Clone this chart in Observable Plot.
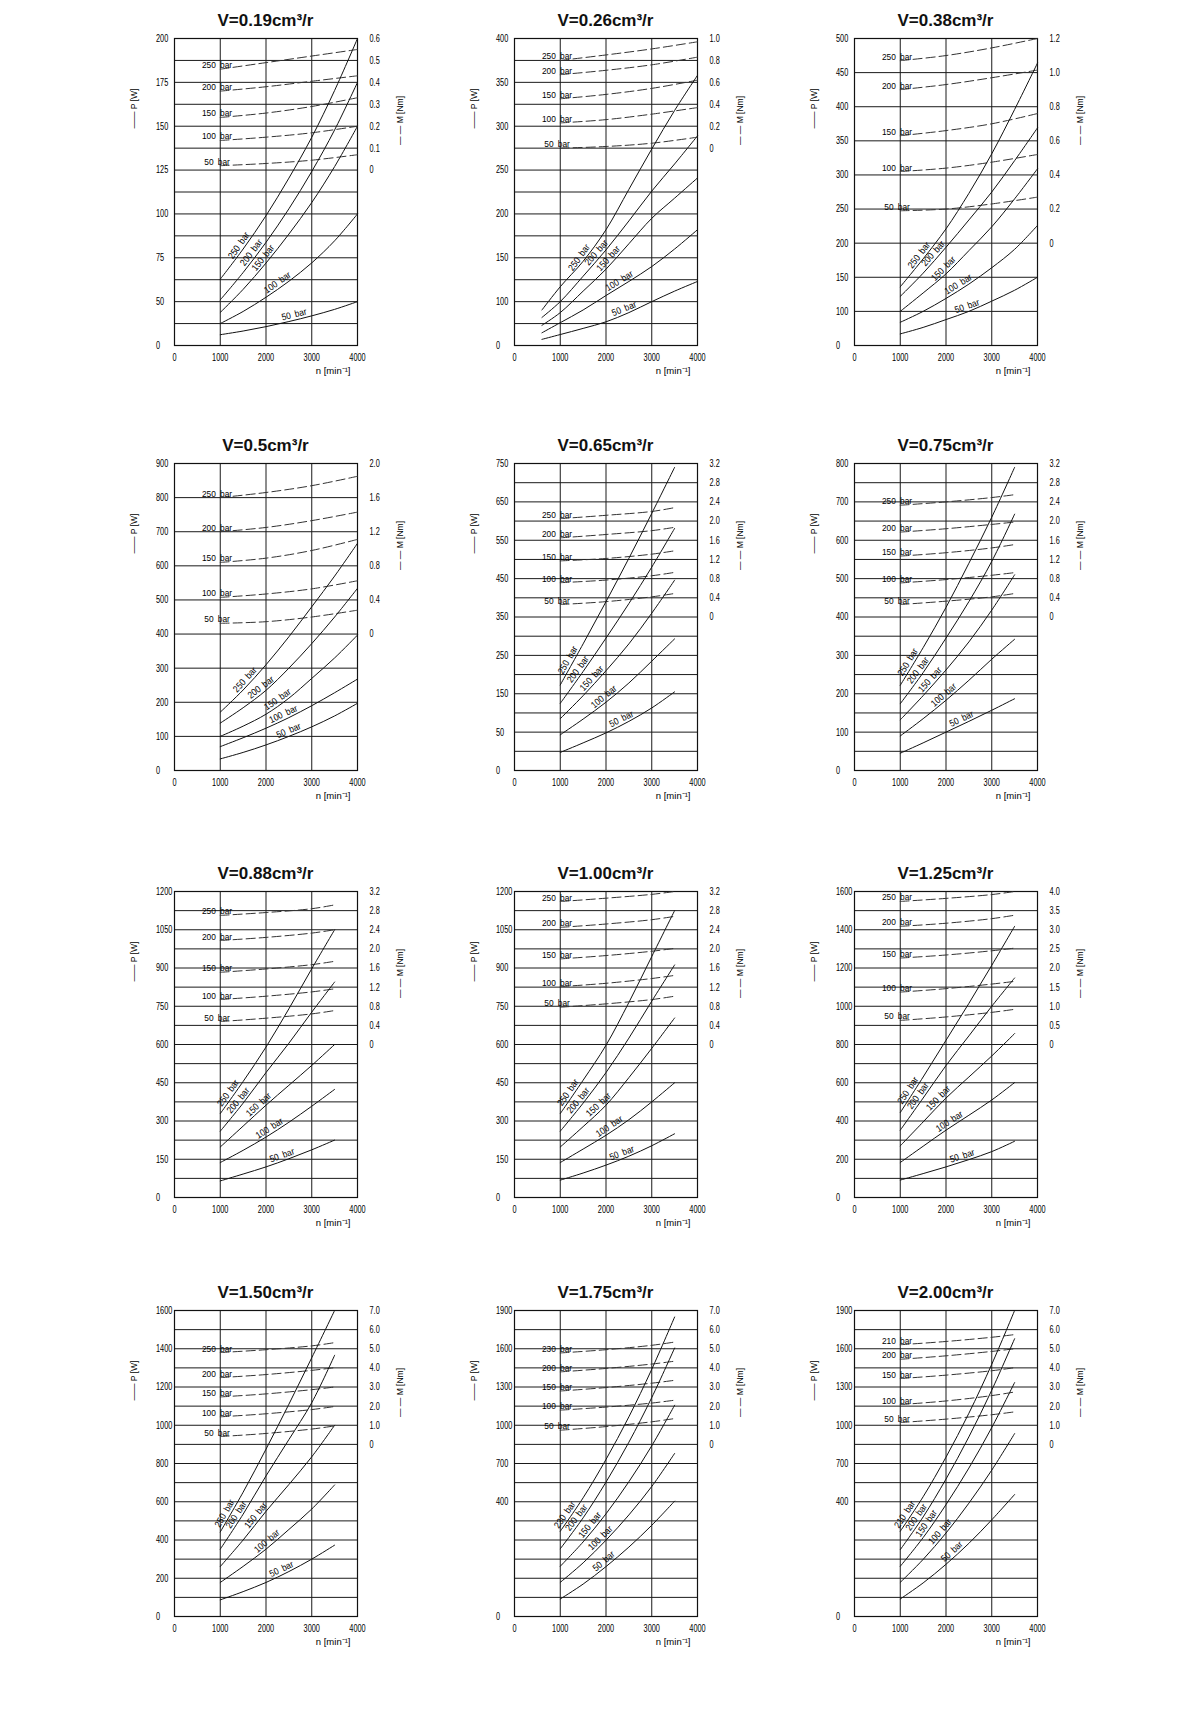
<!DOCTYPE html>
<html><head><meta charset="utf-8">
<script src="https://cdn.jsdelivr.net/npm/d3@7"></script>
<script src="https://cdn.jsdelivr.net/npm/@observablehq/plot@0.6"></script>
<style>
body{margin:0;background:#fff;}
#root{position:relative;width:1200px;height:1729px;background:#fff;overflow:hidden;}
.ttl{position:absolute;font:bold 17px "Liberation Sans",Arial,sans-serif;text-align:center;line-height:20px;height:20px;color:#111;}
.pn{position:absolute;}
</style></head><body><div id="root"></div>
<script>
// ---------- data ----------
const titles = ["V=0.19cm³/r","V=0.26cm³/r","V=0.38cm³/r","V=0.5cm³/r","V=0.65cm³/r","V=0.75cm³/r",
  "V=0.88cm³/r","V=1.00cm³/r","V=1.25cm³/r","V=1.50cm³/r","V=1.75cm³/r","V=2.00cm³/r"];
const xTicks = [0,1000,2000,3000,4000];
const nA = [1000,1500,2000,2500,3000,3500,4000];
const nB = [600,1000,1500,2000,2500,3000,3500,4000];
const nC = [1000,1500,2000,2500,3000,3500];
const mA = [1000,2000,3000,4000];
const mC = [1000,2000,3000,3500];
const bars = [250,200,150,100,50];
const bars175 = [230,200,150,100,50];
const bars200 = [210,200,150,100,50];

const P019 = [[62.8,80,99,120.4,143.7,170.4,200],[51,66.6,83.8,102.9,124.2,147.9,175],[37.7,57,72,88.5,106.5,127,150],[25,38.8,52.5,61.6,72.1,84.7,100],[12.3,16.5,21.5,27.3,33.8,41.2,50]];
const M019 = [[0.46,0.49,0.52,0.55],[0.36,0.38,0.405,0.43],[0.24,0.26,0.29,0.33],[0.135,0.15,0.17,0.20],[0.02,0.03,0.045,0.07]];
const P026 = [[81,117,146,182,228,274,318,358],[64,100,129,159,192,226,257,289],[46,75,112,137,166,195,218,241],[29,52,81,107,123,140,160,182],[14,25,39,54,75,100,112,123]];
const M026 = [[0.80,0.85,0.905,0.97],[0.67,0.71,0.76,0.83],[0.45,0.49,0.545,0.62],[0.23,0.26,0.31,0.37],[0,0.015,0.045,0.10]];
const P038 = [[136,177,221,273,331,396,464],[122,156,194,234,275,321,369],[100,127,155,189,224,265,309],[68,100,119,140,164,191,226],[34,53,76,100,115,131,150]];
const M038 = [[1.07,1.10,1.145,1.20],[0.90,0.93,0.97,1.015],[0.63,0.66,0.70,0.76],[0.42,0.44,0.475,0.52],[0.19,0.20,0.23,0.27]];
const P050 = [[171,236,310,392,480,570,666],[139,184,235,300,372,450,534],[100,130,165,212,270,330,397],[70,96,124,155,190,228,268],[34,53,75,100,128,160,197]];
const M050 = [[1.60,1.66,1.74,1.85],[1.20,1.25,1.33,1.43],[0.84,0.89,0.98,1.11],[0.43,0.47,0.53,0.625],[0.126,0.145,0.20,0.28]];
const P065 = [[173,280,390,503,620,740],[125,208,295,385,480,581],[85,145,210,280,360,446],[46.5,84,128,178,235,293],[23.5,36,49,78,113,155]];
const M065 = [[2.05,2.12,2.20,2.28],[1.65,1.72,1.80,1.87],[1.17,1.22,1.31,1.38],[0.715,0.77,0.86,0.93],[0.26,0.32,0.42,0.49]];
const P075 = [[222,320,425,540,660,790],[174,255,345,440,545,668],[132,195,262,335,418,510],[90,135,183,235,290,342],[45,72,100,128,157,187]];
const M075 = [[2.33,2.40,2.49,2.55],[1.77,1.84,1.93,1.98],[1.27,1.34,1.44,1.51],[0.71,0.78,0.87,0.925],[0.26,0.33,0.42,0.49]];
const P088 = [[329,455,590,740,897,1050],[260,370,490,605,727,845],[198,280,362,440,518,600],[137,185,237,295,358,424],[65,92,120,152,187,225]];
const M088 = [[2.70,2.76,2.84,2.92],[2.175,2.24,2.33,2.40],[1.51,1.58,1.67,1.74],[0.94,1.01,1.10,1.165],[0.48,0.55,0.64,0.71]];
const P100 = [[329,460,597,765,945,1125],[260,370,490,625,770,912],[198,278,362,470,585,704],[137,190,244,305,375,450],[68,96,127,162,203,250]];
const M100 = [[2.99,3.06,3.14,3.2],[2.45,2.52,2.61,2.68],[1.79,1.86,1.95,2.01],[1.21,1.28,1.38,1.445],[0.78,0.85,0.94,1.01]];
const P125 = [[444,630,822,1015,1214,1418],[352,520,690,845,1000,1148],[270,395,520,630,740,857],[183,268,352,430,510,601],[91,125,160,198,240,294]];
const M125 = [[3.74,3.82,3.92,4.0],[3.09,3.17,3.29,3.38],[2.26,2.34,2.45,2.52],[1.37,1.46,1.58,1.65],[0.63,0.72,0.84,0.92]];
const P150 = [[442,650,875,1110,1353,1600],[352,535,735,925,1118,1366],[261,400,550,690,835,1000],[178,262,352,455,562,688],[87,130,178,235,300,373]];
const M150 = [[4.80,4.95,5.15,5.32],[3.49,3.65,3.87,4.01],[2.48,2.64,2.86,3.0],[1.44,1.60,1.82,1.98],[0.41,0.57,0.80,0.965]];
const P175 = [[297,431,732,1066,1439,1849],[236,344,554,867,1217,1606],[175,260,358,557,839,1157],[119,187,266,354,520,779],[61,113,174,242,318,405]];
const M175 = [[4.78,4.95,5.18,5.35],[3.79,3.97,4.20,4.35],[2.79,2.97,3.20,3.35],[1.79,1.95,2.16,2.31],[0.74,0.93,1.18,1.35]];
const P200 = [[297,439,750,1094,1478,1900],[233,347,578,909,1275,1679],[175,275,390,664,982,1335],[119,199,291,395,648,935],[61,117,182,255,337,457]];
const M200 = [[5.21,5.38,5.60,5.74],[4.45,4.63,4.86,5.0],[3.44,3.62,3.85,4.01],[2.08,2.27,2.55,2.74],[1.14,1.32,1.55,1.70]];

// tick labels
const L019 = [0,50,75,100,125,150,175,200];
const L026 = [0,100,150,200,250,300,350,400];
const L038 = [0,100,150,200,250,300,350,400,450,500];
const L050 = [0,100,200,300,400,500,600,700,800,900];
const L065 = [0,50,150,250,350,450,550,650,750];
const L075 = [0,100,200,300,400,500,600,700,800];
const L088 = [0,150,300,450,600,750,900,1050,1200];
const L125 = [0,200,400,600,800,1000,1200,1400,1600];
const L175 = [0,400,700,1000,1300,1600,1900];
const R019 = [0,0.1,0.2,0.3,0.4,0.5,0.6];
const R026 = [0,0.2,0.4,0.6,0.8,1.0];
const R038 = [0,0.2,0.4,0.6,0.8,1.0,1.2];
const R050 = [0,0.4,0.8,1.2,1.6,2.0];
const R065 = [0,0.4,0.8,1.2,1.6,2.0,2.4,2.8,3.2];
const R125 = [0,0.5,1.0,1.5,2.0,2.5,3.0,3.5,4.0];
const R150 = [0,1,2,3,4,5,6,7];

// per-panel axis/annotation settings
const panels = [
 {P:P019,M:M019,n:nA,nM:mA,bars:bars,yd:[0,50,200],low:2,step:12.5,L:L019,R:R019,m0:125,mk:125,lab:[1507,1775,2030,2320,2645]},
 {P:P026,M:M026,n:nB,nM:mA,bars:bars,yd:[0,100,400],low:2,step:25,L:L026,R:R026,m0:275,mk:125,lab:[1510,1880,2140,2355,2440]},
 {P:P038,M:M038,n:nA,nM:mA,bars:bars,yd:[0,100,500],low:1,step:50,L:L038,R:R038,m0:200,mk:250,lab:[1507,1810,2030,2333,2500]},
 {P:P050,M:M050,n:nA,nM:mA,bars:bars,yd:[0,100,900],low:1,step:100,L:L050,R:R050,m0:400,mk:250,lab:[1630,1960,2320,2430,2540]},
 {P:P065,M:M065,n:nC,nM:mC,bars:bars,yd:[0,50,750],low:2,step:50,L:L065,R:R065,m0:350,mk:125,lab:[1270,1485,1775,2030,2390]},
 {P:P075,M:M075,n:nC,nM:mC,bars:bars,yd:[0,100,800],low:2,step:50,L:L075,R:R065,m0:400,mk:125,lab:[1270,1485,1740,2030,2390]},
 {P:P088,M:M088,n:nC,nM:mC,bars:bars,yd:[0,150,1200],low:2,step:75,L:L088,R:R065,m0:600,mk:187.5,lab:[1270,1485,1920,2140,2390]},
 {P:P100,M:M100,n:nC,nM:mC,bars:bars,yd:[0,150,1200],low:2,step:75,L:L088,R:R065,m0:600,mk:187.5,lab:[1270,1485,1920,2140,2390]},
 {P:P125,M:M125,n:nC,nM:mC,bars:bars,yd:[0,200,1600],low:2,step:100,L:L125,R:R125,m0:800,mk:200,lab:[1270,1485,1920,2140,2390]},
 {P:P150,M:M150,n:nC,nM:mC,bars:bars,yd:[0,200,1600],low:2,step:100,L:L125,R:R150,m0:900,mk:100,lab:[1200,1450,1870,2100,2390]},
 {P:P175,M:M175,n:nC,nM:mC,bars:bars175,yd:[0,400,1900],low:6,step:150,L:L175,R:R150,m0:850,mk:150,lab:[1200,1450,1740,1960,2030]},
 {P:P200,M:M200,n:nC,nM:mC,bars:bars200,yd:[0,400,1900],low:6,step:150,L:L175,R:R150,m0:850,mk:150,lab:[1200,1450,1670,1960,2210]}
];

// ---------- layout ----------
const colLeft = [174, 514, 854];
const rowTop = [38, 463, 891, 1310];
const rowH = [307, 307, 306, 306];
const FW = 183, mL = 45, mR = 110, mT = 8, mB = 42;
const FONT = "'Liberation Sans',Arial,sans-serif";
const root = document.getElementById("root");

panels.forEach((p, idx) => {
  try {
  const row = Math.floor(idx / 3), col = idx % 3;
  const H = rowH[row], fl = colLeft[col], ft = rowTop[row];
  const [y0, yLow, yTop] = p.yd;
  const nInt = p.low + (yTop - yLow) / p.step;
  const xRange = [mL, mL + FW];
  const yRange = [mT + H, mT];
  // broken (compressed) lower segment of the P axis, as in the original drawing
  const tf = v => v <= yLow ? v / yLow * p.low : p.low + (v - yLow) / p.step;
  const tfInv = u => u <= p.low ? u / p.low * yLow : yLow + (u - p.low) * p.step;
  const grid = [];
  for (let i = 1; i < p.low; i++) grid.push(yLow * i / p.low);
  for (let v = yLow; v < yTop - 1e-6; v += p.step) grid.push(v);

  // the same mapping the plot uses, for orienting the curve labels
  const xs = d3.scaleLinear().domain([0, 4000]).range(xRange);
  const us = d3.scaleLinear().domain([0, nInt]).range(yRange);
  const ys = v => us(tf(v));
  const ysInv = py => tfInv(us.invert(py));

  const solid = [];
  p.P.forEach((arr, i) => arr.forEach((v, j) => solid.push({n: p.n[j], P: v, bar: p.bars[i]})));
  const dashed = [];
  p.M.forEach((arr, i) => arr.forEach((m, j) => dashed.push({n: p.nM[j], P: p.m0 + m * p.mk, bar: p.bars[i]})));

  const solidLabels = p.bars.map((b, i) => {
    const pts = p.n.map((nv, j) => [xs(nv), ys(p.P[i][j])]);
    const lx = xs(p.lab[i]);
    let k = 0; while (k < pts.length - 2 && pts[k + 1][0] < lx) k++;
    const [ax, ay] = pts[k], [bx, by] = pts[k + 1];
    const t = (lx - ax) / (bx - ax);
    const py = ay + t * (by - ay);
    const th = Math.atan2(by - ay, bx - ax);
    const off = 2.5;
    const qx = lx + Math.sin(th) * off, qy = py - Math.cos(th) * off;
    return {n: xs.invert(qx), P: ysInv(qy), r: th * 180 / Math.PI, t: b + "\u2002bar"};
  });
  const dashLabels = p.bars.map((b, i) => ({n: 930, P: p.m0 + p.M[i][0] * p.mk, t: b + "\u2002bar"}));

  const fmtR = d => { const m = Math.round((d - p.m0) / p.mk * 10) / 10; return m === 0 ? "0" : m.toFixed(1); };

  const svg = Plot.plot({
    width: mL + FW + mR, height: mT + H + mB,
    marginLeft: mL, marginRight: mR, marginTop: mT, marginBottom: mB,
    style: {fontFamily: FONT, fontSize: "9px", color: "#000", background: "white", overflow: "visible"},
    x: {domain: [0, 4000], range: xRange},
    y: {transform: tf, domain: [0, nInt], range: yRange},
    marks: [
      Plot.ruleY(grid, {stroke: "#1a1a1a", strokeWidth: 1}),
      Plot.ruleX([1000, 2000, 3000], {stroke: "#1a1a1a", strokeWidth: 1}),
      Plot.frame({stroke: "#111", strokeWidth: 1.2}),
      Plot.line(dashed, {x: "n", y: "P", z: "bar", curve: "catmull-rom", stroke: "#333", strokeWidth: 1, strokeDasharray: "9,4"}),
      Plot.line(solid, {x: "n", y: "P", z: "bar", curve: "catmull-rom", stroke: "#111", strokeWidth: 1}),
      Plot.text(solidLabels, {x: "n", y: "P", text: "t", rotate: "r", textAnchor: "middle", lineAnchor: "bottom", fontSize: 9.5, fill: "#000"}),
      Plot.text(dashLabels, {x: "n", y: "P", text: "t", textAnchor: "middle", lineAnchor: "bottom", dy: -1, fontSize: 9.5, fill: "#000"}),
      Plot.axisY(p.L, {anchor: "left", label: null, tickSize: 0, tickPadding: 18.5, textAnchor: "start", tickFormat: d => String(d), fontSize: 10.5}),
      Plot.axisY(p.R.map(m => p.m0 + m * p.mk), {anchor: "right", label: null, tickSize: 0, tickPadding: 12, textAnchor: "start", tickFormat: fmtR, fontSize: 10.5}),
      Plot.axisX(xTicks, {anchor: "bottom", label: null, tickSize: 0, tickPadding: 8, tickFormat: d => String(d), fontSize: 10.5}),
      Plot.text(["n [min\u207B\u00B9]"], {text: d => d, frameAnchor: "bottom-right", dx: -7, dy: 25, textAnchor: "end", lineAnchor: "middle", fontSize: 9.5}),
      Plot.text(["\u2014\u2014 P [W]"], {text: d => d, frameAnchor: "top-left", dx: -40, dy: 70, rotate: -90, textAnchor: "middle", lineAnchor: "middle", fontSize: 8.5}),
      Plot.text(["\u2014 \u2014 M [Nm]"], {text: d => d, frameAnchor: "top-right", dx: 43, dy: 82, rotate: -90, textAnchor: "middle", lineAnchor: "middle", fontSize: 8.5})
    ]
  });
  const div = document.createElement("div");
  div.className = "pn";
  div.style.left = (fl - mL) + "px";
  div.style.top = (ft - mT) + "px";
  div.appendChild(svg);
  root.appendChild(div);

  // squeeze lettering horizontally, imitating the narrow drafting font
  svg.querySelectorAll("text").forEach(t => {
    const g = t.closest("g[aria-label]");
    const kind = g ? g.getAttribute("aria-label") : "";
    const s = t.textContent || "";
    let f = 0;
    if (kind.includes("tick label")) f = 0.7;
    else if (s.endsWith("bar")) f = 0.88;
    if (!f) return;
    const w = t.getComputedTextLength();
    if (w > 0) { t.setAttribute("textLength", (w * f).toFixed(2)); t.setAttribute("lengthAdjust", "spacingAndGlyphs"); }
  });

  const tt = document.createElement("div");
  tt.className = "ttl";
  tt.style.left = fl + "px";
  tt.style.width = FW + "px";
  tt.style.top = (ft - 27) + "px";
  tt.textContent = titles[idx];
  root.appendChild(tt);
  } catch (e) { console.error("panel " + idx + ": " + e.message); }
});
</script>
</body></html>
